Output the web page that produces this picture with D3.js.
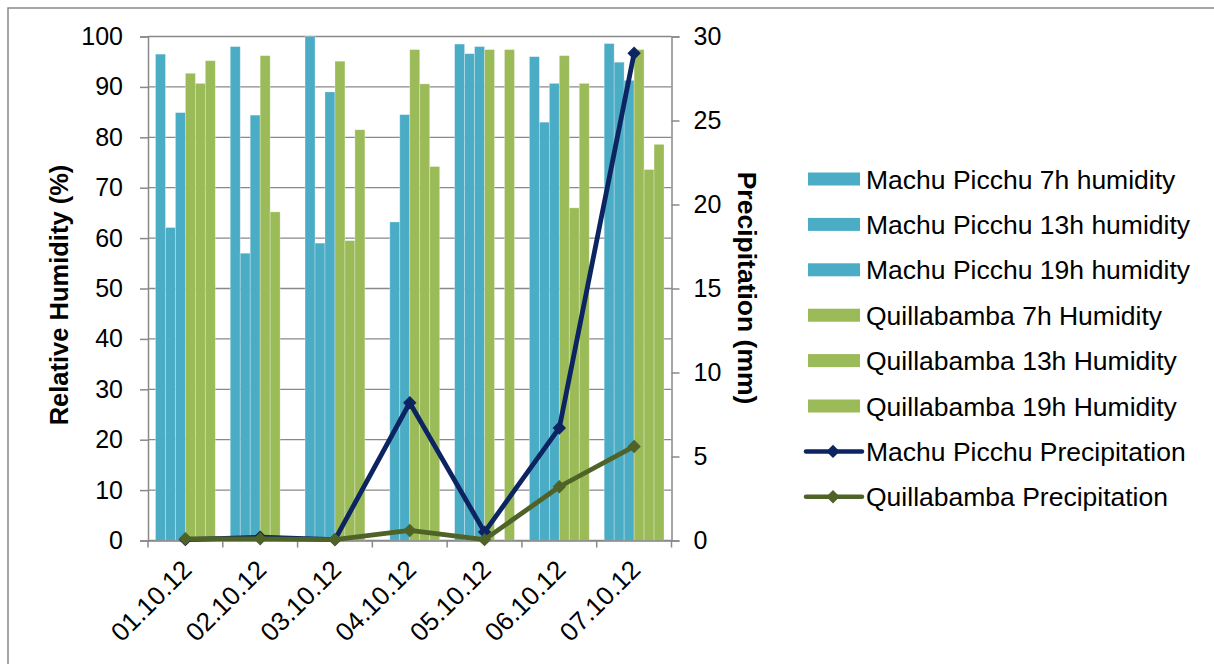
<!DOCTYPE html>
<html>
<head>
<meta charset="utf-8">
<script src="https://cdn.jsdelivr.net/npm/d3@7"></script>
<style>
    body { margin: 0; background: #fff; }
    text { font-family: "Liberation Sans", Arial, sans-serif; fill: #000; }
</style>
</head>
<body>
<div id="chart"></div>
<script>
// categories
var dates = ["01.10.12", "02.10.12", "03.10.12", "04.10.12", "05.10.12", "06.10.12", "07.10.12"];

// humidity (%), null = no bar
var mp7h  = [96.5, 98.0, 100, null, 98.5, 96.0, 98.6];
var mp13h = [62.1, 57.0, 59.0, 63.2, 96.6, 83.0, 94.9];
var mp19h = [84.9, 84.4, 89.0, 84.5, 98.0, 90.7, 91.3];
var q7h   = [92.7, 96.2, 95.1, 97.4, 97.4, 96.2, 97.4];
var q13h  = [90.7, 65.2, 59.5, 90.6, null, 66.0, 73.6];
var q19h  = [95.2, null, 81.5, 74.2, 97.4, 90.7, 78.6];

// precipitation (mm)
var mpPrecip = [0.05, 0.2, 0.05, 8.2, 0.5, 6.7, 29.0];
var qPrecip  = [0.1, 0.1, 0.05, 0.6, 0.05, 3.2, 5.6];

var humTicks = [0, 10, 20, 30, 40, 50, 60, 70, 80, 90, 100];
var precTicks = [0, 5, 10, 15, 20, 25, 30];

var barSeries = [
    {name: "Machu Picchu 7h humidity", values: mp7h, color: "#4bacc6"},
    {name: "Machu Picchu 13h humidity", values: mp13h, color: "#4bacc6"},
    {name: "Machu Picchu 19h humidity", values: mp19h, color: "#4bacc6"},
    {name: "Quillabamba 7h Humidity", values: q7h, color: "#9bbb59"},
    {name: "Quillabamba 13h Humidity", values: q13h, color: "#9bbb59"},
    {name: "Quillabamba 19h Humidity", values: q19h, color: "#9bbb59"}
];
var lineSeries = [
    {name: "Machu Picchu Precipitation", values: mpPrecip, color: "#0c2461"},
    {name: "Quillabamba Precipitation", values: qPrecip, color: "#4f6228"}
];

// plot box (not "top": that name is taken by window.top)
var plotLeft = 148, plotRight = 671.5, plotTop = 36.5, plotBottom = 540.5;
var gridColor = "#898989";

var svg = d3.select("#chart").append("svg")
    .attr("width", 1214)
    .attr("height", 664);

// chart frame (runs off the picture on the right and bottom)
svg.append("rect")
    .attr("x", 8).attr("y", 8)
    .attr("width", 1300).attr("height", 700)
    .attr("fill", "none")
    .attr("stroke", gridColor)
    .attr("stroke-width", 1.5);

// Scales
var x = d3.scaleBand().domain(dates).range([plotLeft, plotRight]);
var xInner = d3.scaleBand()
    .domain(d3.range(barSeries.length))
    .range([0, x.bandwidth()])
    .paddingInner(0)
    .paddingOuter(0.75);
var yHum = d3.scaleLinear().domain([0, 100]).range([plotBottom, plotTop]);
var yPrec = d3.scaleLinear().domain([0, 30]).range([plotBottom, plotTop]);

// horizontal gridlines
svg.append("g")
    .selectAll("line")
    .data(humTicks)
    .enter().append("line")
    .attr("x1", plotLeft).attr("x2", plotRight)
    .attr("y1", function(d) { return yHum(d); })
    .attr("y2", function(d) { return yHum(d); })
    .attr("stroke", gridColor)
    .attr("stroke-width", 1.3);

// bars
var groups = svg.append("g")
    .selectAll(".series")
    .data(barSeries)
    .enter().append("g")
    .attr("class", "series")
    .attr("fill", function(d) { return d.color; });

groups.each(function(s, si) {
    d3.select(this).selectAll("rect")
        .data(s.values.map(function(v, i) { return {date: dates[i], value: v}; })
            .filter(function(d) { return d.value != null; }))
        .enter().append("rect")
        .attr("x", function(d) { return x(d.date) + xInner(si); })
        .attr("width", xInner.bandwidth())
        .attr("y", function(d) { return yHum(d.value); })
        .attr("height", function(d) { return yHum(0) - yHum(d.value); })
        .attr("stroke", "rgba(255,255,255,0.35)")
        .attr("stroke-width", 0.8);
});

// axes
var leftAxis = svg.append("g")
    .attr("transform", "translate(" + plotLeft + ",0)")
    .call(d3.axisLeft(yHum).tickValues(humTicks).tickSize(8).tickPadding(17));
var rightAxis = svg.append("g")
    .attr("transform", "translate(" + plotRight + ",0)")
    .call(d3.axisRight(yPrec).tickValues(precTicks).tickSize(8).tickPadding(14));
var bottomAxis = svg.append("g")
    .attr("transform", "translate(0," + plotBottom + ")")
    .call(d3.axisBottom(x).tickSize(0).tickFormat(""));

[leftAxis, rightAxis, bottomAxis].forEach(function(a) {
    a.select(".domain").attr("stroke", gridColor).attr("stroke-width", 1.5);
    a.selectAll(".tick line").attr("stroke", gridColor).attr("stroke-width", 1.5);
    a.selectAll("text")
        .style("font-family", "'Liberation Sans', Arial, sans-serif")
        .style("font-size", "25px")
        .attr("fill", "#000");
});
rightAxis.selectAll("text").attr("text-anchor", "start");

// category boundary ticks
svg.append("g")
    .selectAll("line")
    .data(dates.concat(["end"]))
    .enter().append("line")
    .attr("x1", function(d, i) { return plotLeft + x.step() * i; })
    .attr("x2", function(d, i) { return plotLeft + x.step() * i; })
    .attr("y1", plotBottom).attr("y2", plotBottom + 7)
    .attr("stroke", gridColor)
    .attr("stroke-width", 1.5);

// rotated date labels
svg.append("g")
    .selectAll("text")
    .data(dates)
    .enter().append("text")
    .attr("transform", function(d) {
        return "translate(" + (x(d) + x.bandwidth() / 2 - 5) + "," + (plotBottom + 18) + ") rotate(-45)";
    })
    .attr("text-anchor", "end")
    .attr("dy", "0.7em")
    .style("font-size", "26px")
    .text(function(d) { return d; });

// precipitation lines
var line = d3.line()
    .x(function(d) { return x(d.date) + x.bandwidth() / 2; })
    .y(function(d) { return yPrec(d.value); });
var diamond = d3.symbol().type(d3.symbolSquare).size(90);

lineSeries.forEach(function(s) {
    var pts = s.values.map(function(v, i) { return {date: dates[i], value: v}; });
    svg.append("path")
        .datum(pts)
        .attr("d", line)
        .attr("fill", "none")
        .attr("stroke", s.color)
        .attr("stroke-width", 4.8)
        .attr("stroke-linejoin", "round");
    svg.append("g")
        .selectAll("path")
        .data(pts)
        .enter().append("path")
        .attr("d", diamond)
        .attr("transform", function(d) {
            return "translate(" + line.x()(d) + "," + line.y()(d) + ") rotate(45)";
        })
        .attr("fill", s.color);
});

// axis titles
svg.append("text")
    .attr("transform", "translate(68,295) rotate(-90)")
    .attr("text-anchor", "middle")
    .style("font-size", "25.5px")
    .style("font-weight", "bold")
    .text("Relative Humidity (%)");

svg.append("text")
    .attr("transform", "translate(738,288) rotate(90)")
    .attr("text-anchor", "middle")
    .style("font-size", "26.5px")
    .style("font-weight", "bold")
    .text("Precipitation (mm)");

// legend
var legendItems = barSeries.concat(lineSeries);
var legend = svg.selectAll(".legend")
    .data(legendItems)
    .enter().append("g")
    .attr("class", "legend")
    .attr("transform", function(d, i) {
        return "translate(806," + (179 + 45.4 * i) + ")";
    });

legend.each(function(d, i) {
    var g = d3.select(this);
    if (i < barSeries.length) {
        g.append("rect")
            .attr("x", 2).attr("y", -6.5)
            .attr("width", 52).attr("height", 13)
            .attr("fill", d.color);
    } else {
        g.append("line")
            .attr("x1", 0).attr("x2", 56)
            .attr("stroke", d.color)
            .attr("stroke-width", 4.5)
            .attr("stroke-linecap", "round");
        g.append("path")
            .attr("d", diamond)
            .attr("transform", "translate(27,0) rotate(45)")
            .attr("fill", d.color);
    }
});

legend.append("text")
    .attr("x", 60)
    .attr("dy", "0.36em")
    .style("font-size", "26.5px")
    .text(function(d) { return d.name; });
</script>
</body>
</html>
